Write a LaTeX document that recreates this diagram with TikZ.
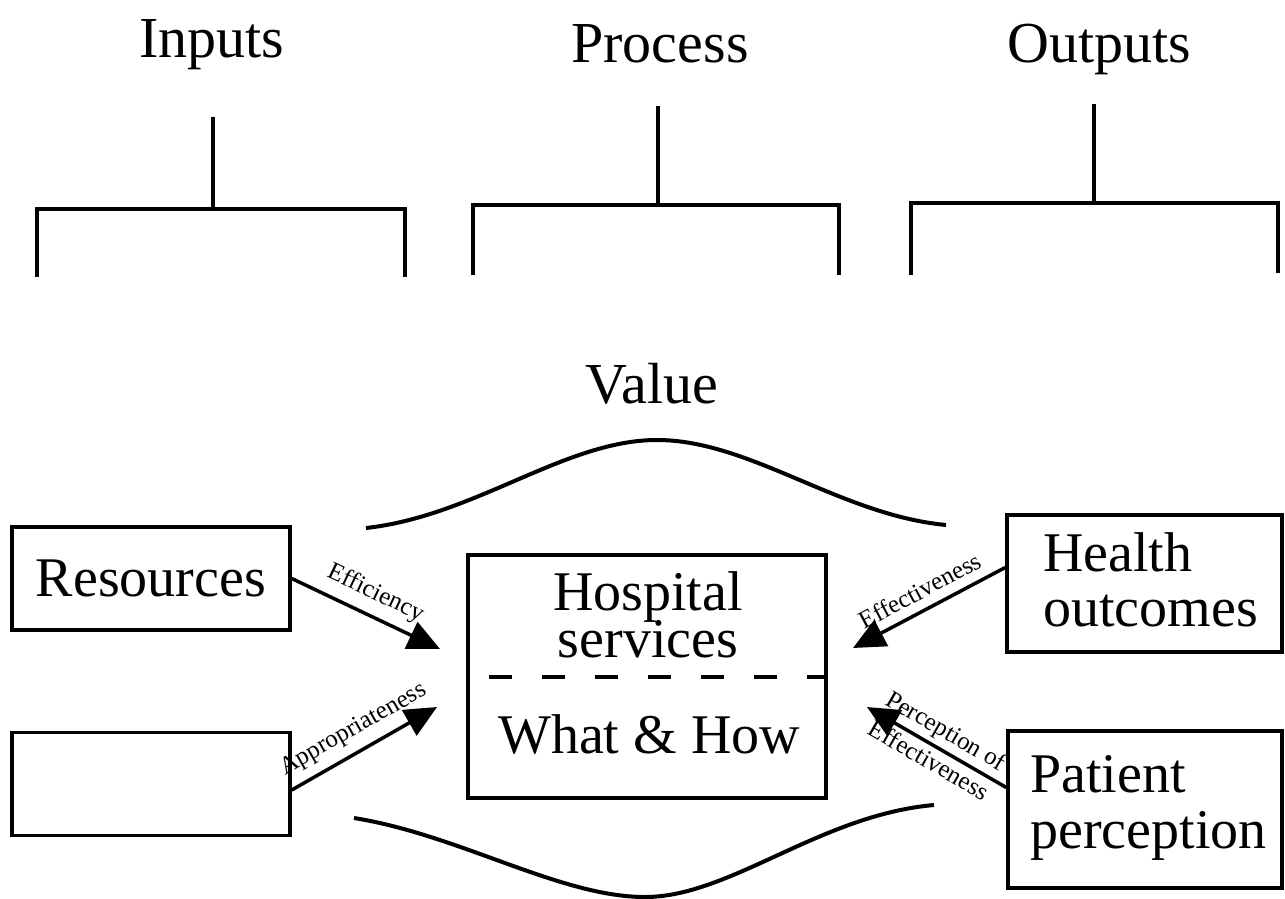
\documentclass[tikz,border=0pt]{standalone}
\usepackage{fontspec}
\setmainfont{Liberation Serif}
\usetikzlibrary{arrows.meta}

\tikzset{
  box/.style={draw, line width=3.5pt, inner sep=0pt, font=\fontsize{56}{55}\selectfont},
  title/.style={font=\fontsize{58}{58}\selectfont, inner sep=0pt, anchor=base},
  boxtext/.style={font=\fontsize{56}{56}\selectfont, inner sep=0pt, anchor=base},
  lefttext/.style={boxtext, anchor=base west},
  lab/.style={font=\fontsize{25}{25}\selectfont, inner sep=9pt, sloped, midway},
  bracket/.style={line width=4.5pt},
  stem/.style={line width=3.5pt},
  arr/.style={line width=3.5pt, -{Triangle[length=32pt,width=29pt]}},
  curve/.style={line width=4pt}
}

\begin{document}
\begin{tikzpicture}[x=1pt,y=-1pt]
\useasboundingbox (0,0) rectangle (1285,899);

\node[title] (inputs) at (212,58) {Inputs};
\node[title] (process) at (660,63) {Process};
\node[title] (outputs) at (1099,63) {Outputs};
\node[title] (value) at (652,403) {Value};

\draw[stem] (213,117) -- (213,209);
\draw[bracket] (37,277) -- (37,209) -- (405,209) -- (405,277);
\draw[stem] (658,106) -- (658,205);
\draw[bracket] (473,275) -- (473,205) -- (839,205) -- (839,275);
\draw[stem] (1094,104) -- (1094,203);
\draw[bracket] (911,275) -- (911,203) -- (1278,203) -- (1278,273);

\draw[curve] (366,528) .. controls (475,516) and (565,440) .. (657,440)
  .. controls (750,440) and (840,515) .. (946,525);
\draw[curve] (354,818) .. controls (460,835) and (560,897) .. (645,897)
  .. controls (730,897) and (820,815) .. (934,805);

\node[box, minimum width=278pt, minimum height=103pt] (res) at (151,578.5) {Resources};
\node[box, minimum width=278pt, minimum height=103pt] (blank) at (151,784) {};
\node[box, minimum width=275pt, minimum height=137pt] (health) at (1144.5,583.5) {};
\node[lefttext] (healtha) at (1043,571) {Health};
\node[lefttext] (healthb) at (1043,626) {outcomes};
\node[box, minimum width=274pt, minimum height=157pt] (patient) at (1145,809.5) {};
\node[lefttext] (patienta) at (1030,792) {Patient};
\node[lefttext] (patientb) at (1030,848) {perception};

\node[box, minimum width=358pt, minimum height=243pt] (hosp) at (647,676.5) {};
\node[boxtext] (hospa) at (648,610) {Hospital};
\node[boxtext] (hospb) at (648,657) {services};
\node[boxtext] (hospc) at (649,753) {What \& How};
\coordinate (dashl) at (489,677);
\draw[line width=3.5pt, dash pattern=on 23pt off 30pt] (dashl) -- (dashl -| hosp.east);

\coordinate (efftip) at (440,649);
\coordinate (apptip) at (437,707);
\coordinate (outtip) at (853,648);
\coordinate (pertip) at (867,707);
\draw[arr] (res.east) -- (efftip) node[lab, above] {Efficiency};
\draw[arr] ([yshift=-6pt]blank.east) -- (apptip) node[lab, above] {Appropriateness};
\draw[arr] ([yshift=16pt]health.west) -- (outtip) node[lab, above] {Effectiveness};
\draw[arr] ([yshift=22pt]patient.west) -- (pertip) node[lab, above, inner sep=4pt] {Perception of}
  node[lab, below, inner sep=4pt] {Effectiveness};
\end{tikzpicture}
\end{document}
